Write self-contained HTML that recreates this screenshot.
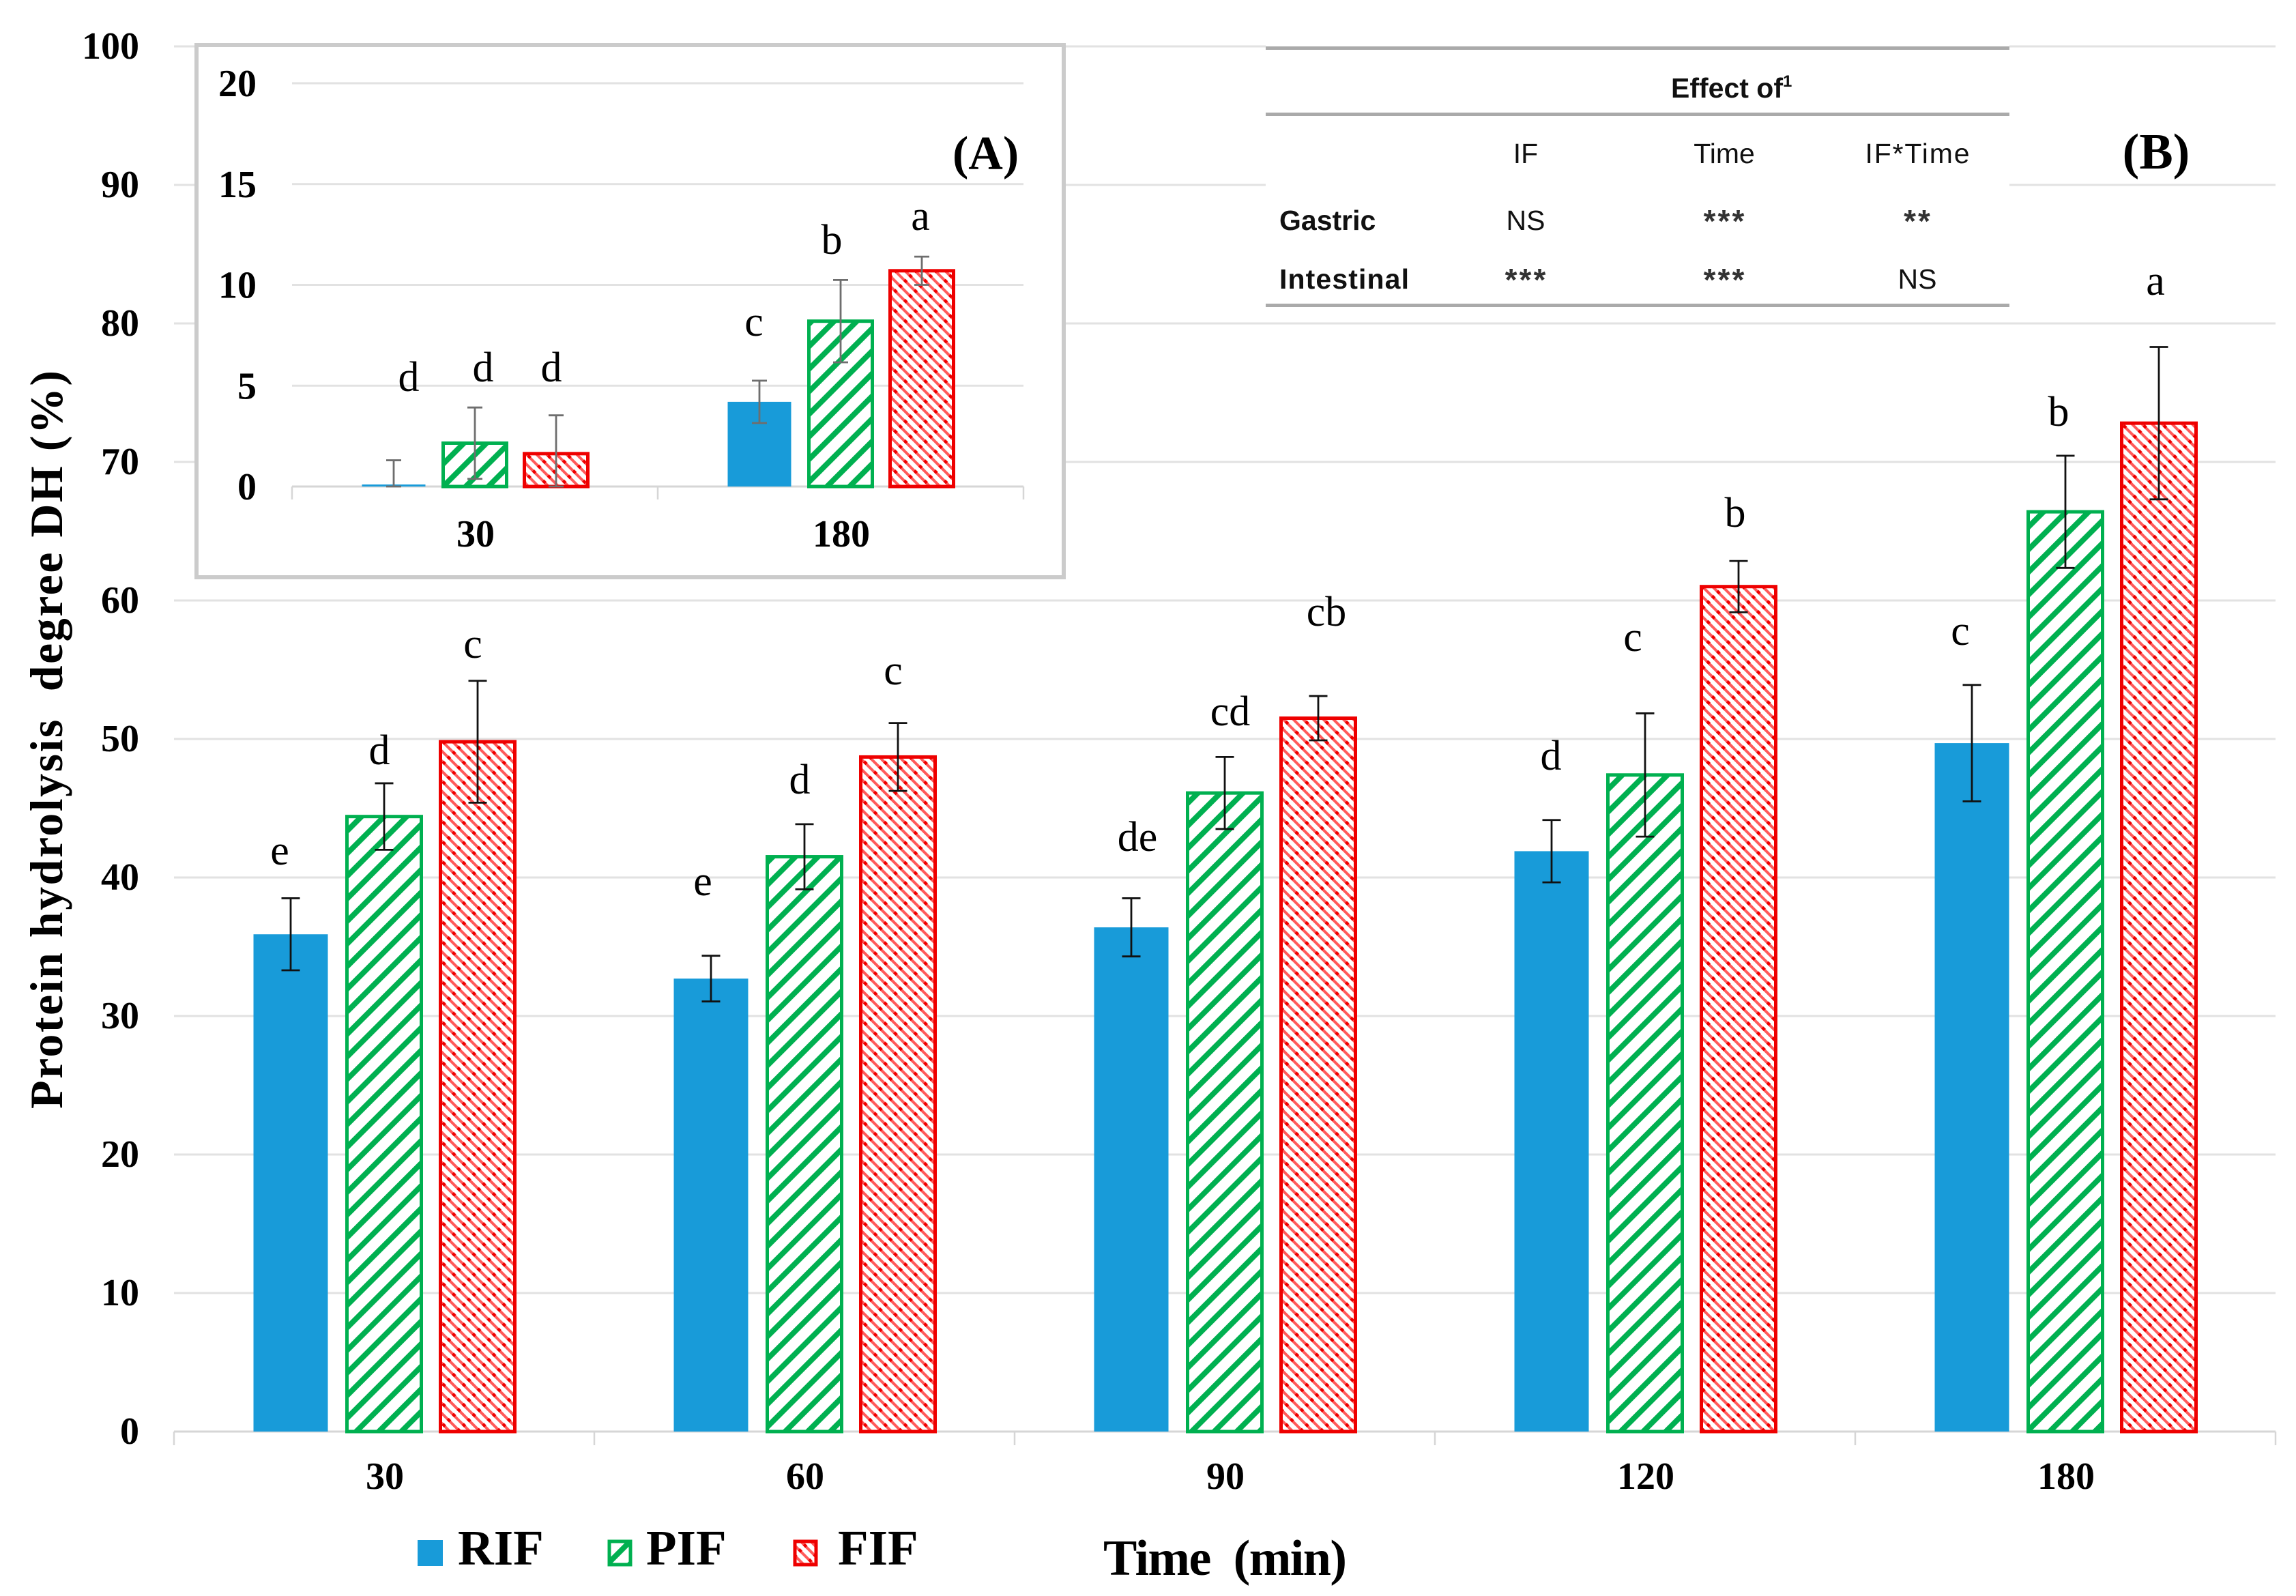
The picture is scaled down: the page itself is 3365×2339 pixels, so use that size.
<!DOCTYPE html>
<html lang="en">
<head>
<meta charset="utf-8">
<title>Protein hydrolysis degree by time and infant formula</title>
<style>
html,body{margin:0;padding:0;background:#fff;}
svg{display:block;}
.serif{font-family:"Liberation Serif",serif;fill:#000;}
.sans{font-family:"Liberation Sans",sans-serif;fill:#111;}
.tick{font-weight:bold;font-size:56px;}
.letter{font-size:62px;text-anchor:middle;}
.cell{font-size:41px;text-anchor:middle;}
.stars{font-size:46px;font-weight:bold;text-anchor:middle;letter-spacing:3px;fill:#333;}
.rowhead{font-size:41px;font-weight:bold;}
.legend-text{font-size:73px;font-weight:bold;}
</style>
</head>
<body>
<svg id="chart" xmlns="http://www.w3.org/2000/svg" width="3365" height="2339" viewBox="0 0 3365 2339">
  <defs>
    <pattern id="pif-hatch" patternUnits="userSpaceOnUse" width="23.4" height="23.4" patternTransform="rotate(45)">
      <rect width="23.4" height="23.4" fill="#fff"/>
      <rect width="8" height="23.4" fill="#00b050"/>
    </pattern>
    <pattern id="fif-hatch" patternUnits="userSpaceOnUse" width="10.4" height="20.8" patternTransform="rotate(-45)">
      <rect width="10.4" height="20.8" fill="#fff"/>
      <rect width="4" height="20.8" fill="#ff5a5a"/>
      <rect width="4.6" height="5" fill="#ee0000"/>
    </pattern>
  </defs>
  <rect width="3365" height="2339" fill="#fff"/>
  <g id="main-grid"></g>
  <g id="main-marks"></g>
  <g id="main-labels"></g>

  <rect x="288" y="66" width="1271" height="780" fill="#fff" stroke="#cbcbcb" stroke-width="6"/>
  <g id="inset-grid"></g>
  <g id="inset-marks"></g>
  <g id="inset-labels"></g>
  <text class="serif" x="1396" y="248" font-size="70" font-weight="bold">(A)</text>

  <g>
    <text class="serif letter" x="599" y="573">d</text>
    <text class="serif letter" x="708" y="559">d</text>
    <text class="serif letter" x="808" y="559">d</text>
    <text class="serif letter" x="1105" y="492">c</text>
    <text class="serif letter" x="1219" y="372">b</text>
    <text class="serif letter" x="1349" y="337">a</text>
  </g>

  <g>
    <rect x="1855" y="64" width="1090" height="386" fill="#fff"/>
    <rect x="1855" y="68" width="1090" height="5" fill="#aaa"/>
    <rect x="1855" y="165" width="1090" height="5" fill="#aaa"/>
    <rect x="1855" y="445" width="1090" height="5" fill="#aaa"/>
    <text class="sans" x="2449" y="143" font-size="41" font-weight="bold">Effect of<tspan font-size="24" dy="-16">1</tspan></text>
    <text class="sans cell" x="2236" y="239">IF</text>
    <text class="sans cell" x="2527" y="239">Time</text>
    <text class="sans cell" x="2810" y="239" textLength="153">IF*Time</text>
    <text class="sans rowhead" x="1875" y="337">Gastric</text>
    <text class="sans cell" x="2236" y="337">NS</text>
    <text class="sans stars" x="2528" y="340">***</text>
    <text class="sans stars" x="2811" y="340">**</text>
    <text class="sans rowhead" x="1875" y="423" textLength="190">Intestinal</text>
    <text class="sans stars" x="2237" y="426">***</text>
    <text class="sans stars" x="2528" y="426">***</text>
    <text class="sans cell" x="2810" y="423">NS</text>
  </g>

  <text class="serif" x="3160" y="247" font-size="74" font-weight="bold" text-anchor="middle">(B)</text>

  <g>
    <text class="serif letter" x="410" y="1267">e</text>
    <text class="serif letter" x="556" y="1120">d</text>
    <text class="serif letter" x="693" y="964">c</text>
    <text class="serif letter" x="1030" y="1312">e</text>
    <text class="serif letter" x="1172" y="1163">d</text>
    <text class="serif letter" x="1309" y="1003">c</text>
    <text class="serif letter" x="1667" y="1247">de</text>
    <text class="serif letter" x="1803" y="1063">cd</text>
    <text class="serif letter" x="1944" y="917">cb</text>
    <text class="serif letter" x="2273" y="1128">d</text>
    <text class="serif letter" x="2393" y="954">c</text>
    <text class="serif letter" x="2543" y="772">b</text>
    <text class="serif letter" x="2873" y="945">c</text>
    <text class="serif letter" x="3017" y="624">b</text>
    <text class="serif letter" x="3159" y="432">a</text>
  </g>

  <text class="serif" style="white-space:pre" transform="translate(91,1084) rotate(-90)" font-size="68" font-weight="bold" text-anchor="middle" textLength="1082">Protein hydrolysis  degree DH (%)</text>
  <text class="serif" style="white-space:pre" x="1617" y="2308" font-size="74" font-weight="bold" textLength="357">Time  (min)</text>

  <g>
    <g>
      <rect x="612" y="2257" width="37" height="38" fill="#189bd9"/>
      <text class="serif legend-text" x="671" y="2293">RIF</text>
    </g>
    <g>
      <rect x="893" y="2259" width="31" height="34" fill="url(#pif-hatch)" stroke="#00b050" stroke-width="5"/>
      <text class="serif legend-text" x="947" y="2293">PIF</text>
    </g>
    <g>
      <rect x="1165" y="2259" width="31" height="34" fill="url(#fif-hatch)" stroke="#ee0000" stroke-width="5"/>
      <text class="serif legend-text" x="1228" y="2293">FIF</text>
    </g>
  </g>
</svg>
<script>
// Main chart data (panel B)
const timeLabels = ['30', '60', '90', '120', '180'];
const rifValues = [35.9, 32.7, 36.4, 41.9, 49.7];
const rifErrors = [2.6, 1.65, 2.1, 2.25, 4.2];
const pifValues = [44.4, 41.5, 46.1, 47.4, 66.4];
const pifErrors = [2.4, 2.35, 2.6, 4.45, 4.05];
const fifValues = [49.8, 48.7, 51.5, 61.0, 72.8];
const fifErrors = [4.4, 2.45, 1.6, 1.85, 5.5];
const mainTicks = [0, 10, 20, 30, 40, 50, 60, 70, 80, 90, 100];

// Inset chart data (panel A)
const insetTimeLabels = ['30', '180'];
const insetRifValues = [0.1, 4.2];
const insetRifErrors = [1.2, 1.05];
const insetPifValues = [2.15, 8.2];
const insetPifErrors = [1.77, 2.04];
const insetFifValues = [1.63, 10.7];
const insetFifErrors = [1.9, 0.7];
const insetTicks = [0, 5, 10, 15, 20];

const NS = 'http://www.w3.org/2000/svg';

function mainY(v) { return 2098 - 20.3 * v; }
function mainX(i) { return 255 + (i + 0.5) * 616; }
function insetY(v) { return 713 - 29.55 * v; }
function insetX(i) { return 428 + (i + 0.5) * 536; }

function make(tag, parent, attrs, text) {
  const el = document.createElementNS(NS, tag);
  for (const k in attrs) el.setAttribute(k, attrs[k]);
  if (text !== undefined) el.textContent = text;
  parent.appendChild(el);
  return el;
}

function drawAxes(gridGroup, labelGroup, opt) {
  opt.ticks.forEach(function (t) {
    const line = make('line', gridGroup, {x1: opt.left, x2: opt.right, y1: opt.y(t), y2: opt.y(t), stroke: t === 0 ? '#d6d6d6' : '#e2e2e2', 'stroke-width': 3});
    
    
    const lab = make('text', labelGroup, {x: opt.tickX, y: opt.y(t) + opt.tickDy, 'text-anchor': 'end', class: 'serif tick'}, String(t));
    
    
  });
  const n = opt.labels.length;
  for (let i = 0; i <= n; i++) {
    const bx = opt.x(i) - opt.pitch / 2;
    const mark = make('line', gridGroup, {x1: bx, x2: bx, y1: opt.y(0), y2: opt.y(0) + opt.tickLen, stroke: '#d6d6d6', 'stroke-width': 2.5});
    
    
  }
  opt.labels.forEach(function (c, i) {
    const lab = make('text', labelGroup, {x: opt.x(i) + opt.labelDx, y: opt.labelY, 'text-anchor': 'middle', class: 'serif tick'}, c);
    
    
  });
}

function drawSeries(group, opt, seriesName, values, errors, slot, fill, stroke) {
  values.forEach(function (v, i) {
    const cx = opt.x(i) + slot * opt.barPitch;
    const top = opt.y(v);
    const base = opt.y(0);
    const bar = make('rect', group, {x: cx - opt.barWidth / 2, y: top, width: opt.barWidth, height: base - top, fill: fill});
    if (stroke) {
      bar.setAttribute('stroke', stroke);
      bar.setAttribute('stroke-width', 5);
    }
    
    
  });
}

function drawErrors(group, opt, seriesName, values, errors, slot) {
  values.forEach(function (v, i) {
    const cx = opt.x(i) + slot * opt.barPitch;
    const hi = opt.y(v + errors[i]);
    const lo = opt.y(Math.max(0, v - errors[i]));
    const g = make('g', group, {stroke: opt.errColor, 'stroke-width': opt.errWidth, fill: 'none'});
    
    
    make('line', g, {x1: cx, x2: cx, y1: hi, y2: lo});
    make('line', g, {x1: cx - opt.cap, x2: cx + opt.cap, y1: hi, y2: hi});
    make('line', g, {x1: cx - opt.cap, x2: cx + opt.cap, y1: lo, y2: lo});
  });
}

const mainOpt = {prefix: '', ticks: mainTicks, labels: timeLabels, y: mainY, x: mainX, left: 255, right: 3335, tickX: 204, tickDy: 18, pitch: 616, tickLen: 20, labelY: 2182, labelDx: 1, barPitch: 137, barWidth: 109, errColor: '#111', errWidth: 2.8, cap: 13.5};
const insetOpt = {prefix: 'inset-', ticks: insetTicks, labels: insetTimeLabels, y: insetY, x: insetX, left: 428, right: 1500, tickX: 376, tickDy: 19, pitch: 536, tickLen: 19, labelY: 801, labelDx: 1, barPitch: 119, barWidth: 93, errColor: '#6e6e6e', errWidth: 2.8, cap: 11};

drawAxes(document.getElementById('main-grid'), document.getElementById('main-labels'), mainOpt);
drawAxes(document.getElementById('inset-grid'), document.getElementById('inset-labels'), insetOpt);

const mainMarks = document.getElementById('main-marks');
drawSeries(mainMarks, mainOpt, 'rif', rifValues, rifErrors, -1, '#189bd9', null);
drawSeries(mainMarks, mainOpt, 'pif', pifValues, pifErrors, 0, 'url(#pif-hatch)', '#00b050');
drawSeries(mainMarks, mainOpt, 'fif', fifValues, fifErrors, 1, 'url(#fif-hatch)', '#ee0000');
drawErrors(mainMarks, mainOpt, 'rif', rifValues, rifErrors, -1);
drawErrors(mainMarks, mainOpt, 'pif', pifValues, pifErrors, 0);
drawErrors(mainMarks, mainOpt, 'fif', fifValues, fifErrors, 1);

const insetMarks = document.getElementById('inset-marks');
drawSeries(insetMarks, insetOpt, 'rif', insetRifValues, insetRifErrors, -1, '#189bd9', null);
drawSeries(insetMarks, insetOpt, 'pif', insetPifValues, insetPifErrors, 0, 'url(#pif-hatch)', '#00b050');
drawSeries(insetMarks, insetOpt, 'fif', insetFifValues, insetFifErrors, 1, 'url(#fif-hatch)', '#ee0000');
drawErrors(insetMarks, insetOpt, 'rif', insetRifValues, insetRifErrors, -1);
drawErrors(insetMarks, insetOpt, 'pif', insetPifValues, insetPifErrors, 0);
drawErrors(insetMarks, insetOpt, 'fif', insetFifValues, insetFifErrors, 1);
</script>
</body>
</html>
